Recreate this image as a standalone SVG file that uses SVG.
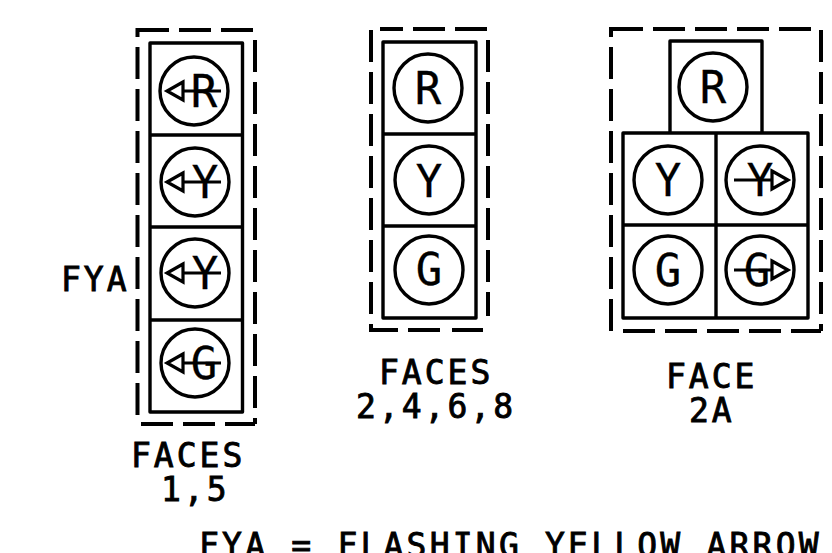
<svg xmlns="http://www.w3.org/2000/svg" width="832" height="553" viewBox="0 0 832 553">
<defs>
<style>
.bg{fill:#fff}
.box{fill:none;stroke:#000;stroke-width:3.4;stroke-linejoin:round}
.dash{fill:none;stroke:#000;stroke-width:4;stroke-dasharray:32 10}
.ln{fill:none;stroke:#000;stroke-width:3.2}
text{font-family:"DejaVu Sans Mono","Liberation Mono",monospace;fill:#000;stroke:#000}
.lb{font-size:33px;letter-spacing:3px;stroke-width:.9px}
.bt{letter-spacing:3.2px}
.sig{font-size:44px;text-anchor:middle;stroke-width:.3px}
</style>
<g id="arrowL"><path class="ln" d="M183 -9L167 0L183 9ZM183 0H221"/></g>
<g id="arrowR"><path class="ln" d="M772 -9L788 0L772 9ZM772 0H734"/></g>
</defs>
<rect class="bg" width="832" height="553"/>
<g id="face-1-5">
<path class="dash" d="M137.500 47V424"/>
<path class="dash" d="M137.500 37V30H168"/>
<path class="dash" stroke-dashoffset="-42" d="M137 30H254"/>
<path class="dash" d="M255 40V424"/>
<path class="dash" d="M141 424H255"/>
<path class="box" d="M150 43H242.500V412H150ZM150 135H242.500M150 227H242.500M150 320H242.500"/>
<circle class="box" cx="194" cy="91" r="34"/>
<circle class="box" cx="195" cy="182" r="34"/>
<circle class="box" cx="195" cy="273" r="34"/>
<circle class="box" cx="195" cy="363" r="34"/>
<text class="sig" x="204" y="107">R</text>
<text class="sig" x="205" y="198">Y</text>
<text class="sig" x="205" y="289">Y</text>
<text class="sig" x="204" y="379">G</text>
<use href="#arrowL" y="91"/>
<use href="#arrowL" y="182"/>
<use href="#arrowL" y="273"/>
<use href="#arrowL" y="363"/>
<text class="lb" x="61" y="291">FYA</text>
<text class="lb" x="131" y="467">FACES</text>
<text class="lb" x="161" y="501">1,5</text>
</g>
<g id="face-2-4-6-8">
<path class="dash" d="M371 62V29H403" stroke-dasharray="none"/>
<path class="dash" d="M371 72V331"/>
<path class="dash" d="M413 29H488"/>
<path class="dash" d="M488 40V316"/>
<path class="dash" d="M371 325V330H398M408 330H442M452 330H483" stroke-dasharray="none"/>
<path class="box" d="M383 42H476V318H383ZM383 134H476M383 226H476"/>
<circle class="box" cx="428" cy="88" r="34"/>
<circle class="box" cx="429" cy="180" r="34"/>
<circle class="box" cx="429" cy="270" r="34"/>
<text class="sig" x="428" y="104">R</text>
<text class="sig" x="429" y="197">Y</text>
<text class="sig" x="429" y="285">G</text>
<text class="lb" x="379" y="384">FACES</text>
<text class="lb" x="356" y="418">2,4,6,8</text>
</g>
<g id="face-2a">
<path class="dash" stroke-dashoffset="-42" d="M611 29H813"/>
<path class="dash" d="M611 37V29H643"/>
<path class="dash" d="M611 47V331"/>
<path class="dash" d="M821 30V331"/>
<path class="dash" d="M623 331H821"/>
<path class="box" d="M670 133V41H762V133M623 133H808V318H623ZM716 133V318M623 225H808"/>
<circle class="box" cx="713" cy="87" r="34"/>
<circle class="box" cx="668" cy="180" r="34"/>
<circle class="box" cx="760" cy="180" r="34"/>
<circle class="box" cx="668" cy="270" r="34"/>
<circle class="box" cx="760" cy="270" r="34"/>
<text class="sig" x="713" y="103">R</text>
<text class="sig" x="668" y="196">Y</text>
<text class="sig" x="760" y="196">Y</text>
<text class="sig" x="668" y="286">G</text>
<text class="sig" x="757" y="286">G</text>
<use href="#arrowR" y="180"/>
<use href="#arrowR" y="270"/>
<text class="lb" x="666" y="388">FACE</text>
<text class="lb" x="689" y="422">2A</text>
</g>
<text class="lb bt" x="199" y="557">FYA = FLASHING YELLOW ARROW</text>
</svg>
